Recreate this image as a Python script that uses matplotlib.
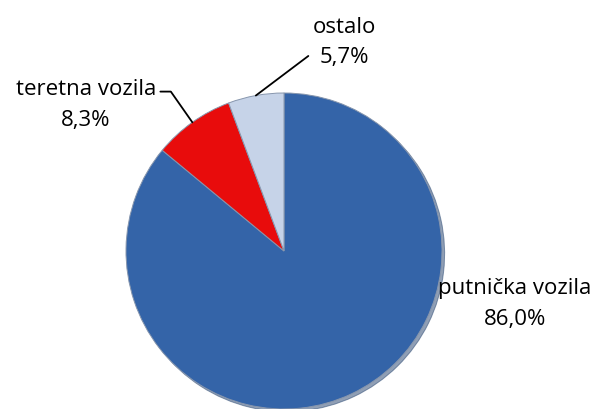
import numpy as np
import matplotlib
matplotlib.use("Agg")
import matplotlib.pyplot as plt

# udjeli vozila
kategorije = ["putnička vozila", "teretna vozila", "ostalo"]
udjeli = [86.0, 8.3, 5.7]
oznake = ["86,0%", "8,3%", "5,7%"]
boje = ["#3464A8", "#E80C0C", "#C6D3E8"]

plt.rcParams["font.family"] = ["Open Sans", "DejaVu Sans"]

fig = plt.figure(figsize=(5.98, 4.09), dpi=100, facecolor="white")
# pie centered at about (284, 251) px, radius ~158 px
ax = fig.add_axes([(284 - 158) / 598, (409 - 251 - 158) / 409, 316 / 598, 316 / 409])

wedges, _ = ax.pie(udjeli, colors=boje, startangle=90, counterclock=False,
                   wedgeprops=dict(edgecolor="#8796ad", linewidth=0.7),
                   shadow={"ox": 0.012, "oy": -0.012, "shade": 0.35})
ax.set_xlim(-1, 1)
ax.set_ylim(-1, 1)
ax.set_aspect("equal")

# polozaj natpisa (sredina bloka teksta, u jedinicama polumjera)
tekst_xy = [(1.462, -0.335), (-1.253, 0.924), (0.38, 1.32)]

for i, w in enumerate(wedges):
    txt = kategorije[i] + "\n" + oznake[i]
    sredina = np.deg2rad((w.theta1 + w.theta2) / 2)
    if i == 0:
        ax.text(*tekst_xy[i], txt, ha="center", va="center", fontsize=16,
                linespacing=1.6, color="black")
        continue
    if i == 1:
        rel, kut = (1.0, 0.76), -55
    else:
        rel, kut = (0.0, 0.25), 37
    ax.annotate(txt, xy=(np.cos(sredina), np.sin(sredina)), xytext=tekst_xy[i],
                ha="center", va="center", fontsize=16, linespacing=1.6,
                arrowprops=dict(arrowstyle="-", color="black", lw=1.3, relpos=rel,
                                shrinkA=1, shrinkB=0,
                                connectionstyle=f"angle,angleA=0,angleB={kut},rad=0"))

fig.savefig("out.png", dpi=100, facecolor="white")
